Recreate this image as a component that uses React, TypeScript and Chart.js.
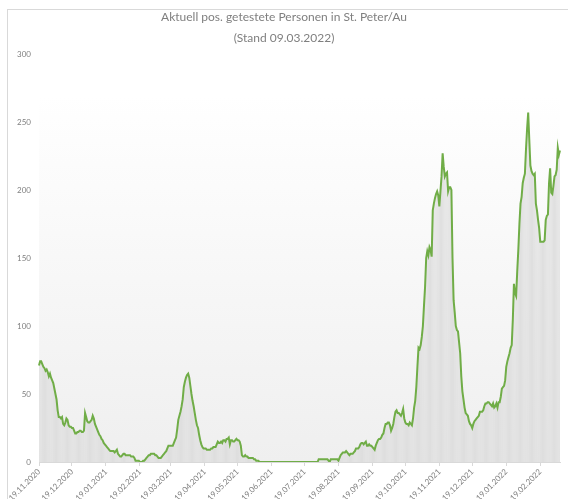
import React, { useEffect, useRef } from "react";
import { Chart, registerables } from "chart.js";

Chart.register(...registerables);

// Daily values, 19.11.2020 – 09.03.2022
const nov2020 = [71, 74, 74, 72, 70, 69, 67, 68, 66, 63, 65, 62];
const dec2020 = [60, 58, 54, 50, 46, 38, 33, 33, 32, 33, 28, 27, 29, 32, 31, 27, 26, 26, 25, 25, 23, 21, 21, 22, 22, 23, 23, 22, 22, 23, 36];
const jan2021 = [33, 30, 29, 29, 30, 31, 34, 32, 28, 26, 24, 22, 20, 19, 17, 16, 14, 13, 12, 11, 10, 9, 8, 8, 8, 8, 7, 8, 9, 6, 5];
const feb2021 = [4, 4, 5, 6, 6, 5, 5, 5, 5, 5, 4, 4, 4, 3, 1, 1, 1, 1, 0, 0, 0, 1, 1, 2, 3, 4, 5, 5];
const mar2021 = [6, 6, 6, 6, 5, 5, 4, 3, 3, 3, 4, 5, 6, 7, 8, 10, 12, 12, 12, 12, 12, 14, 16, 18, 24, 31, 34, 37, 41, 46, 55];
const apr2021 = [59, 62, 64, 65, 62, 56, 50, 45, 41, 36, 31, 27, 25, 20, 16, 13, 11, 10, 10, 10, 9, 9, 9, 9, 10, 10, 11, 11, 11, 13];
const may2021 = [15, 14, 14, 15, 14, 16, 16, 15, 17, 17, 18, 13, 16, 16, 15, 15, 16, 17, 16, 16, 15, 12, 5, 4, 4, 5, 4, 4, 3, 3, 3];
const jun2021 = [3, 3, 2, 2, 1, 1, 1, 0, 0, 0, 0, 0, 0, 0, 0, 0, 0, 0, 0, 0, 0, 0, 0, 0, 0, 0, 0, 0, 0, 0];
const jul2021 = [0, 0, 0, 0, 0, 0, 0, 0, 0, 0, 0, 0, 0, 0, 0, 0, 0, 0, 0, 0, 0, 0, 0, 0, 0, 0, 0, 0, 0, 0, 0];
const aug2021 = [2, 2, 2, 2, 2, 2, 2, 2, 2, 1, 0, 2, 2, 2, 2, 2, 2, 2, 1, 3, 5, 6, 7, 7, 7, 8, 7, 6, 5, 6, 6];
const sep2021 = [6, 7, 8, 10, 10, 10, 11, 13, 14, 14, 13, 14, 15, 12, 12, 13, 12, 12, 11, 10, 9, 12, 14, 16, 17, 17, 18, 20, 21, 25];
const oct2021 = [28, 28, 29, 29, 27, 23, 25, 28, 33, 37, 38, 36, 36, 35, 34, 36, 39, 32, 29, 28, 28, 27, 29, 28, 27, 32, 40, 45, 55, 70, 84];
const nov2021 = [83, 86, 92, 100, 115, 129, 150, 155, 152, 158, 156, 151, 185, 190, 194, 197, 199, 196, 188, 199, 210, 227, 217, 210, 212, 213, 199, 202, 202, 200];
const dec2021 = [150, 119, 110, 100, 97, 96, 88, 80, 63, 52, 46, 40, 36, 35, 34, 30, 28, 27, 25, 28, 30, 31, 32, 33, 34, 37, 37, 37, 38, 41, 43];
const jan2022 = [43, 44, 44, 43, 42, 41, 43, 40, 41, 43, 40, 44, 44, 48, 54, 55, 56, 60, 70, 74, 77, 80, 84, 86, 105, 131, 124, 122, 140, 156, 175];
const feb2022 = [190, 195, 205, 209, 212, 230, 245, 257, 237, 218, 214, 212, 211, 212, 190, 185, 178, 172, 162, 162, 162, 162, 163, 178, 181, 182, 205, 216];
const mar2022 = [198, 197, 203, 210, 211, 215, 231, 226, 229];

const tickLabels = [
  "19.11.2020", "19.12.2020", "19.01.2021", "19.02.2021", "19.03.2021",
  "19.04.2021", "19.05.2021", "19.06.2021", "19.07.2021", "19.08.2021",
  "19.09.2021", "19.10.2021", "19.11.2021", "19.12.2021", "19.01.2022",
  "19.02.2022",
];

const titleLines = ["Aktuell pos. getestete Personen in St. Peter/Au", "(Stand 09.03.2022)"];

const values = [
  ...nov2020, ...dec2020, ...jan2021, ...feb2021, ...mar2021, ...apr2021,
  ...may2021, ...jun2021, ...jul2021, ...aug2021, ...sep2021, ...oct2021,
  ...nov2021, ...dec2021, ...jan2022, ...feb2022, ...mar2022,
];

function dayLabels(count: number): string[] {
  const out: string[] = [];
  for (let i = 0; i < count; i++) {
    const d = new Date(2020, 10, 19 + i);
    const dd = String(d.getDate()).padStart(2, "0");
    const mm = String(d.getMonth() + 1).padStart(2, "0");
    out.push(`${dd}.${mm}.${d.getFullYear()}`);
  }
  return out;
}

const FONT = "Lato, 'Liberation Sans', sans-serif";

const plotBg = {
  id: "plotBg",
  beforeDraw(chart: any) {
    const { ctx, chartArea: a } = chart;
    if (!a) return;
    const g = ctx.createLinearGradient(0, a.top, 0, a.bottom);
    g.addColorStop(0, "#ffffff");
    g.addColorStop(0.1, "#ffffff");
    g.addColorStop(1, "#efefef");
    ctx.save();
    ctx.fillStyle = g;
    ctx.fillRect(a.left, a.top, a.right - a.left, a.bottom - a.top);
    ctx.restore();
  },
};

export default function App() {
  const ref = useRef<HTMLCanvasElement | null>(null);

  useEffect(() => {
    if (!ref.current) return;
    const labels = dayLabels(values.length);
    const chart = new Chart(ref.current, {
      type: "bar",
      data: {
        labels,
        datasets: [
          {
            type: "line",
            data: values,
            borderColor: "#70ad47",
            borderWidth: 2,
            pointRadius: 0,
            tension: 0,
            fill: false,
            order: 0,
          } as any,
          {
            type: "bar",
            data: values,
            backgroundColor: "#dcdcdc",
            barPercentage: 0.8,
            categoryPercentage: 1,
            order: 1,
          },
        ],
      },
      options: {
        responsive: false,
        animation: false,
        layout: { padding: { left: 0, right: 8, top: 0, bottom: 0 } },
        plugins: {
          legend: { display: false },
          tooltip: { enabled: false },
          title: {
            display: true,
            text: titleLines,
            color: "#7f7f7f",
            font: { family: FONT, size: 12, weight: "normal", lineHeight: 1.75 },
            padding: { top: -3, bottom: 5 },
          },
        },
        scales: {
          x: {
            type: "category",
            offset: false,
            grid: {
              display: true,
              offset: false,
              drawOnChartArea: false,
              drawTicks: true,
              tickLength: 4,
              color: "#d9d9d9",
            },
            border: { display: true, color: "#d9d9d9" },
            ticks: {
              autoSkip: false,
              maxRotation: 45,
              minRotation: 45,
              padding: 1,
              color: "#7f7f7f",
              font: { family: FONT, size: 8 },
              callback(this: any, v: any) {
                const l = this.getLabelForValue(v);
                return tickLabels.includes(l) ? l : null;
              },
            },
            afterFit(s: any) {
              s.height = 37;
            },
          },
          y: {
            min: 0,
            max: 300,
            grid: { display: false, drawTicks: false },
            border: { display: false },
            ticks: {
              stepSize: 50,
              padding: 8,
              color: "#7f7f7f",
              font: { family: FONT, size: 8 },
            },
            afterFit(s: any) {
              s.width = 31;
            },
          },
        },
      },
      plugins: [plotBg],
    });
    return () => chart.destroy();
  }, []);

  return (
    <div
      style={{
        position: "fixed",
        left: 7,
        top: 9,
        width: 620,
        height: 620,
        border: "1px solid #d9d9d9",
        background: "#fff",
      }}
    >
      <canvas
        ref={ref}
        width={560}
        height={489}
        style={{ display: "block", width: 560, height: 489 }}
      />
    </div>
  );
}
